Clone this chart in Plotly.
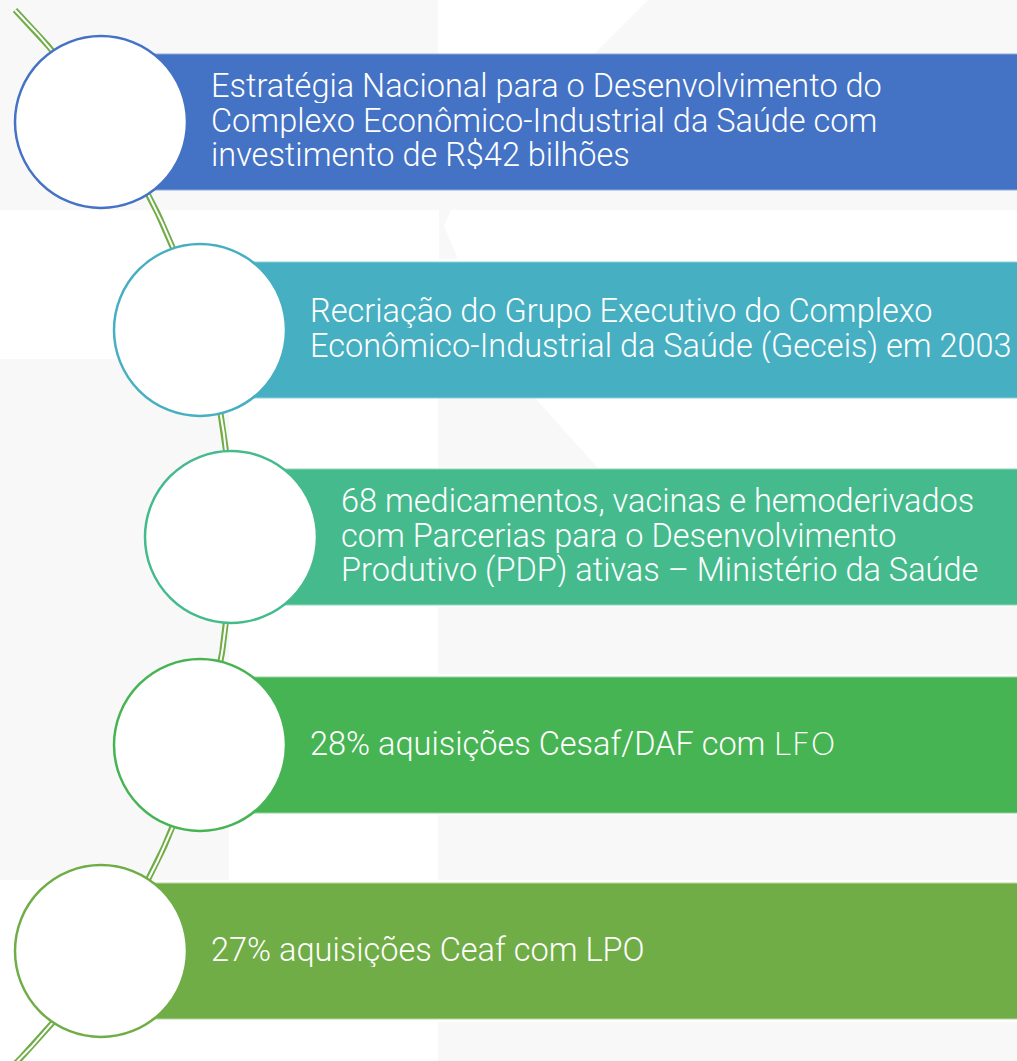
import numpy as np
import plotly.graph_objects as go

# ---- content ----
labels = [
    ["Estratégia Nacional para o Desenvolvimento do",
     "Complexo Econômico-Industrial da Saúde com",
     "investimento de R$42 bilhões"],
    ["Recriação do Grupo Executivo do Complexo",
     "Econômico-Industrial da Saúde (Geceis) em 2003"],
    ["68 medicamentos, vacinas e hemoderivados",
     "com Parcerias para o Desenvolvimento",
     "Produtivo (PDP) ativas – Ministério da Saúde"],
    ["28% aquisições Cesaf/DAF com <span style=\"font-family:'DejaVu Sans';font-weight:200\">LFO</span>"],
    ["27% aquisições Ceaf com LPO"],
]
bar_colors = ["#4472C4", "#46AFC2", "#45BB8D", "#47B454", "#70AD47"]
edge_colors = ["#8FAADC", "#8ED0DC", "#8FD8BB", "#92D59A", "#B5D79D"]

# ---- layout geometry (pixels) ----
W, H = 1017, 1061
circle_cx = [101, 200, 231, 200, 101]
circle_cy = [122, 330, 537, 745, 951]
R = 86
bar_half = 68
LINE_H = 34.5
BG = "#F8F8F8"

shapes = []
# background faint logo shapes
shapes.append(dict(type="rect", layer="below", line=dict(width=0), fillcolor=BG,
                   x0=0, x1=438, y0=0, y1=210))
shapes.append(dict(type="rect", layer="below", line=dict(width=0), fillcolor=BG,
                   x0=438, x1=W, y0=54, y1=210))
shapes.append(dict(type="path", layer="below", line=dict(width=0), fillcolor=BG,
                   path="M 648 0 L 1017 0 L 1017 60 L 588 60 Z"))
shapes.append(dict(type="path", layer="below", line=dict(width=0), fillcolor=BG,
                   path="M 439 208 L 452 208 L 444 226 L 458 259 L 439 259 Z"))
shapes.append(dict(type="rect", layer="below", line=dict(width=0), fillcolor=BG,
                   x0=0, x1=229, y0=359, y1=880))
shapes.append(dict(type="path", layer="below", line=dict(width=0), fillcolor=BG,
                   path="M 438 398 L 535 398 L 598 468 L 438 468 Z"))
shapes.append(dict(type="rect", layer="below", line=dict(width=0), fillcolor=BG,
                   x0=438, x1=W, y0=607, y1=674))
shapes.append(dict(type="rect", layer="below", line=dict(width=0), fillcolor=BG,
                   x0=438, x1=W, y0=815, y1=880))
shapes.append(dict(type="rect", layer="below", line=dict(width=0), fillcolor=BG,
                   x0=438, x1=W, y0=1022, y1=H))

# bars
for cx, cy, col, ec in zip(circle_cx, circle_cy, bar_colors, edge_colors):
    shapes.append(dict(type="rect", layer="below", x0=cx, x1=W + 5,
                       y0=cy - bar_half, y1=cy + bar_half,
                       fillcolor=col, line=dict(color=ec, width=1)))

# circles
for cx, cy, col in zip(circle_cx, circle_cy, bar_colors):
    shapes.append(dict(type="circle", layer="above", x0=cx - R, x1=cx + R,
                       y0=cy - R, y1=cy + R, fillcolor="white",
                       line=dict(color=col, width=2.5)))

# connecting arc (circle through top end, middle circle, bottom end)
top = (15, 10)
mid = (circle_cx[2], circle_cy[2])
ac_y = mid[1]
ac_x = ((mid[0] ** 2) - (top[0] ** 2) - (top[1] - ac_y) ** 2) / (2 * (mid[0] - top[0]))
ar = mid[0] - ac_x
ys = np.linspace(10, 1075, 400)
xs = ac_x + np.sqrt(np.maximum(ar ** 2 - (ys - ac_y) ** 2, 0))

fig = go.Figure()
fig.add_trace(go.Scatter(x=xs, y=ys, mode="lines", line=dict(color="#70AD47", width=6),
                         hoverinfo="skip", showlegend=False))
fig.add_trace(go.Scatter(x=xs, y=ys, mode="lines", line=dict(color="white", width=2),
                         hoverinfo="skip", showlegend=False))

annotations = []
for lines, cx, cy in zip(labels, circle_cx, circle_cy):
    n = len(lines)
    for i, ln in enumerate(lines):
        yy = cy - 1.5 + (i - (n - 1) / 2) * LINE_H
        annotations.append(dict(x=cx + R + 22, y=yy, xref="x", yref="y", text=ln,
                                showarrow=False, xanchor="left", yanchor="middle",
                                align="left", valign="middle", height=34,
                                font=dict(family="Roboto", size=32.5, weight=300,
                                          color="white")))

fig.update_layout(
    width=W, height=H, margin=dict(l=0, r=0, t=0, b=0),
    paper_bgcolor="white", plot_bgcolor="white",
    xaxis=dict(range=[0, W], visible=False, fixedrange=True),
    yaxis=dict(range=[H, 0], visible=False, fixedrange=True),
    shapes=shapes, annotations=annotations, showlegend=False,
)
fig.write_html("out.html", config={"displayModeBar": False},
               post_script="document.body.style.margin='0';")
